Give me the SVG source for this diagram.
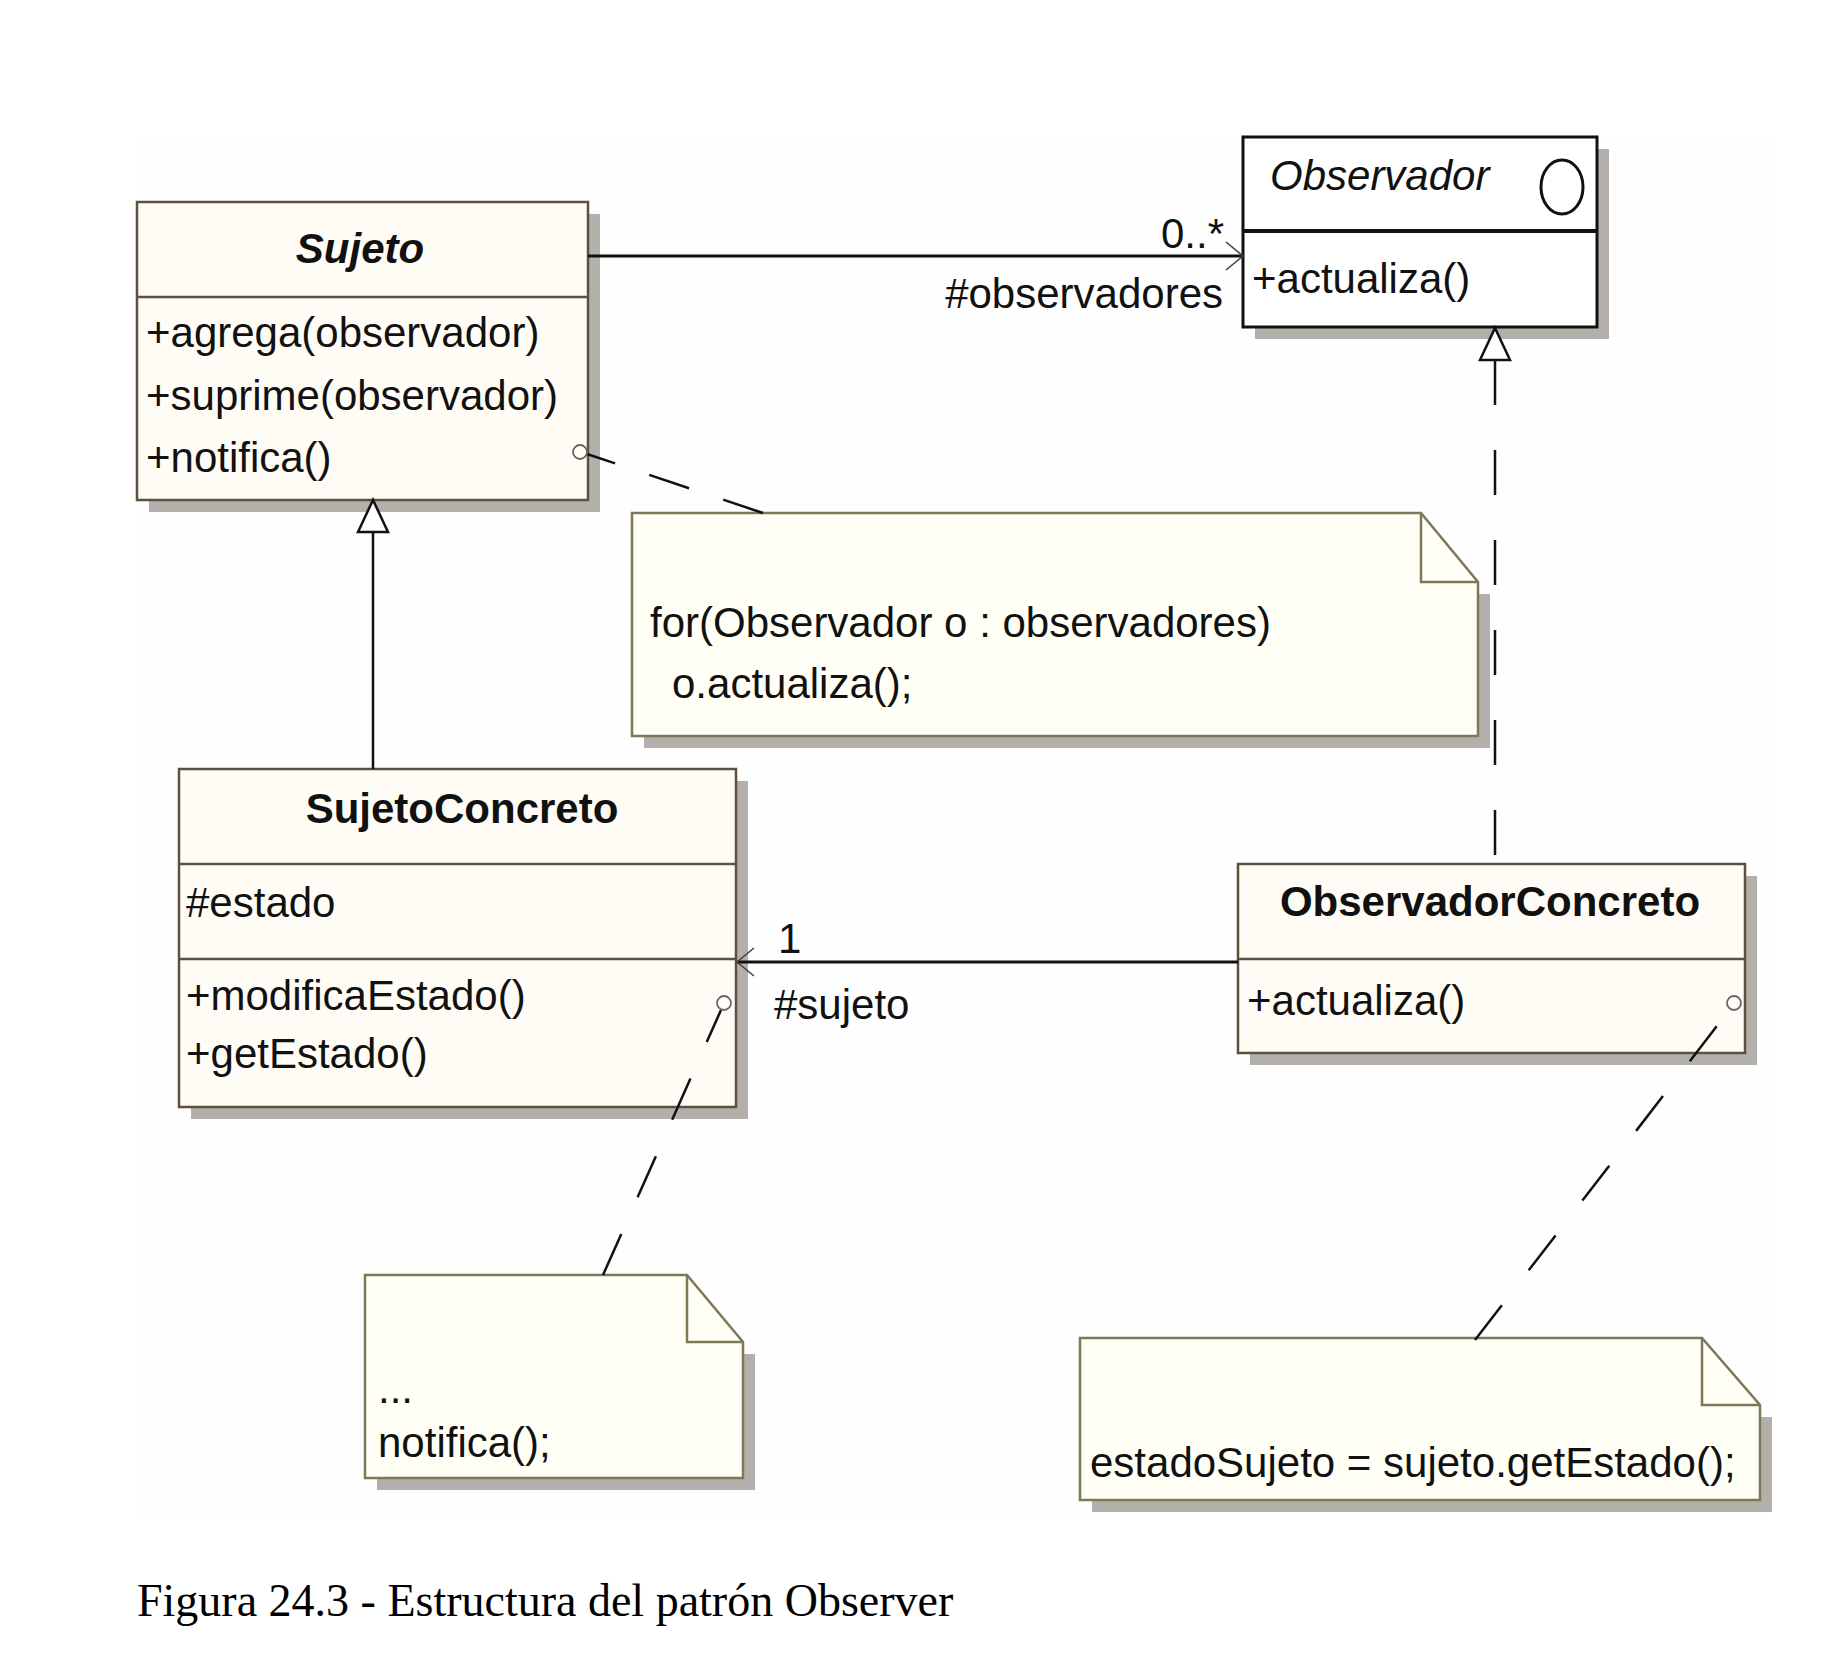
<svg xmlns="http://www.w3.org/2000/svg" width="1846" height="1656" viewBox="0 0 1846 1656">
<style>
.bg{fill:#fefefe}
.shadow{fill:#b3b0ab}
.box{fill:#fffcf6;stroke:#5e5040;stroke-width:2.5}
.div{stroke:#5e5040;stroke-width:2.5}
.ibox{fill:#ffffff;stroke:#111;stroke-width:3}
.idiv{stroke:#111;stroke-width:4}
.note{fill:#fffff6;stroke:#7d7858;stroke-width:2.5}
.fold{fill:none;stroke:#7d7858;stroke-width:2.5}
.t{font-family:"Liberation Sans",Arial,sans-serif;font-size:42px;fill:#111}
.title{font-weight:bold;text-anchor:middle}
.end{text-anchor:end}
.line{stroke:#111;stroke-width:3;fill:none}
.dash{stroke:#111;stroke-width:2.5;fill:none}
.anchor{fill:#fffcf6;stroke:#666;stroke-width:1.8}
.cap{font-family:"Liberation Serif","Times New Roman",serif;font-size:46px;fill:#000}
</style>
<defs>
<marker id="open" markerUnits="userSpaceOnUse" orient="auto" refX="0" refY="0" markerWidth="40" markerHeight="40" overflow="visible">
<path d="M-17,-14 L0,0 L-17,14" fill="none" stroke="#444" stroke-width="1.6"/>
</marker>
<marker id="tri" markerUnits="userSpaceOnUse" orient="auto-start-reverse" refX="0" refY="0" markerWidth="40" markerHeight="40" overflow="visible">
<path d="M0,-15 L32,0 L0,15 Z" fill="#fff" stroke="#111" stroke-width="2.5"/>
</marker>
</defs>
<rect class="bg" x="137" y="135" width="1633" height="1381"/>

<g id="Sujeto">
<rect class="shadow" x="149" y="214" width="451" height="298"/>
<rect class="box" x="137" y="202" width="451" height="298"/>
<line class="div" x1="137" y1="297" x2="588" y2="297"/>
<text class="t title" x="360" y="263" font-style="italic">Sujeto</text>
<text class="t" x="146" y="347">+agrega(observador)</text>
<text class="t" x="146" y="410">+suprime(observador)</text>
<text class="t" x="146" y="472">+notifica()</text>
</g>

<g id="Observador">
<rect class="shadow" x="1255" y="149" width="354" height="190"/>
<rect class="ibox" x="1243" y="137" width="354" height="190"/>
<line class="idiv" x1="1243" y1="231" x2="1597" y2="231"/>
<text class="t" x="1270" y="190" font-style="italic">Observador</text>
<ellipse cx="1562" cy="187" rx="21" ry="27" fill="none" stroke="#111" stroke-width="3"/>
<text class="t" x="1252" y="293">+actualiza()</text>
</g>

<g id="SujetoConcreto">
<rect class="shadow" x="191" y="781" width="557" height="338"/>
<rect class="box" x="179" y="769" width="557" height="338"/>
<line class="div" x1="179" y1="864" x2="736" y2="864"/>
<line class="div" x1="179" y1="959" x2="736" y2="959"/>
<text class="t title" x="462" y="823">SujetoConcreto</text>
<text class="t" x="186" y="917">#estado</text>
<text class="t" x="186" y="1010">+modificaEstado()</text>
<text class="t" x="186" y="1068">+getEstado()</text>
</g>

<g id="ObservadorConcreto">
<rect class="shadow" x="1250" y="876" width="507" height="189"/>
<rect class="box" x="1238" y="864" width="507" height="189"/>
<line class="div" x1="1238" y1="959" x2="1745" y2="959"/>
<text class="t title" x="1490" y="916">ObservadorConcreto</text>
<text class="t" x="1247" y="1015">+actualiza()</text>
</g>

<g id="nota1">
<polygon class="shadow" points="1478,594 1490,594 1490,748 644,748 644,736"/>
<path class="note" d="M632,513 L1421,513 L1478,582 L1478,736 L632,736 Z"/>
<path class="fold" d="M1421,513 L1421,582 L1478,582"/>
<text class="t" x="650" y="637">for(Observador o : observadores)</text>
<text class="t" x="672" y="698">o.actualiza();</text>
</g>

<g id="nota2">
<polygon class="shadow" points="743,1354 755,1354 755,1490 377,1490 377,1478"/>
<path class="note" d="M365,1275 L687,1275 L743,1342 L743,1478 L365,1478 Z"/>
<path class="fold" d="M687,1275 L687,1342 L743,1342"/>
<text class="t" x="378" y="1403">...</text>
<text class="t" x="378" y="1457">notifica();</text>
</g>

<g id="nota3">
<polygon class="shadow" points="1760,1417 1772,1417 1772,1512 1092,1512 1092,1500"/>
<path class="note" d="M1080,1338 L1702,1338 L1760,1405 L1760,1500 L1080,1500 Z"/>
<path class="fold" d="M1702,1338 L1702,1405 L1760,1405"/>
<text class="t" x="1090" y="1477">estadoSujeto = sujeto.getEstado();</text>
</g>

<g id="connectors">
<path class="line" d="M588,256 L1243,256" marker-end="url(#open)"/>
<path class="line" d="M1238,962 L737,962" marker-end="url(#open)"/>
<path class="line" style="stroke-width:2.5" d="M373,769 L373,532" marker-end="url(#tri)"/>
<path class="dash" d="M1495,360 L1495,864" stroke-dasharray="45 45" marker-start="url(#tri)"/>
<path class="dash" d="M763,513 L587,454" stroke-dasharray="42 36"/>
<path class="dash" d="M603,1275 L721,1010" stroke-dasharray="45 40"/>
<path class="dash" d="M1475,1340 L1730,1009" stroke-dasharray="44 44"/>
<circle class="anchor" cx="580" cy="452" r="7"/>
<circle class="anchor" cx="724" cy="1003" r="7"/>
<circle class="anchor" cx="1734" cy="1003" r="7"/>
<text class="t end" x="1224" y="248">0..*</text>
<text class="t end" x="1223" y="308">#observadores</text>
<text class="t" x="778" y="953">1</text>
<text class="t" x="774" y="1019">#sujeto</text>
</g>

<text class="cap" x="137" y="1616">Figura 24.3 - Estructura del patrón Observer</text>
</svg>
